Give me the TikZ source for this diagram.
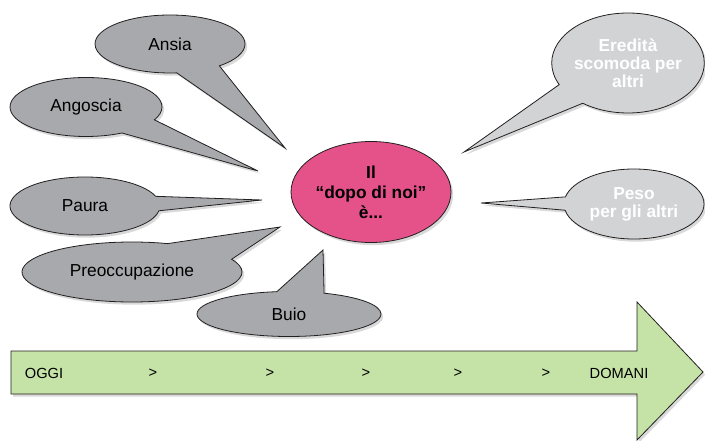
\documentclass[tikz,border=0pt]{standalone}
\usepackage{fontspec}
\setmainfont{Liberation Sans}
\usetikzlibrary{shapes.callouts,shapes.geometric,shadows}
\definecolor{balloongrey}{HTML}{A7A9AC}
\definecolor{balloonlight}{HTML}{D1D3D4}
\definecolor{centerpink}{HTML}{E5528A}
\definecolor{arrowgreen}{HTML}{C5E3A6}
\definecolor{edgegrey}{HTML}{231F20}
\tikzset{
  softshadow/.style={drop shadow={opacity=0.3,shadow xshift=1.6pt,shadow yshift=-2pt}},
  balloon/.style={ellipse callout,draw=edgegrey,line width=0.6pt,fill=balloongrey,
    inner sep=0pt,softshadow,font=\fontsize{13}{15}\selectfont,align=center},
  lightballoon/.style={balloon,fill=balloonlight,text=white,font=\fontsize{13}{13.5}\selectfont\bfseries},
  arrowtext/.style={font=\fontsize{11}{13}\selectfont,anchor=center}
}
\begin{document}
\begin{tikzpicture}[x=0.75pt,y=-0.75pt]
\useasboundingbox (0,0) rectangle (705,441);
% central ellipse
\node[ellipse,draw=edgegrey,line width=0.6pt,fill=centerpink,softshadow,
  minimum width=160*0.75pt,minimum height=101*0.75pt,inner sep=0pt,
  font=\fontsize{13}{15}\selectfont\bfseries,align=center] (center) at (371,192)
  {Il\\“dopo di noi”\\è...};
% tip coordinates
\coordinate (tAnsia) at (285,148);
\coordinate (tAngoscia) at (258,171);
\coordinate (tPaura) at (262,200);
\coordinate (tPreocc) at (280,227);
\coordinate (tBuio) at (323,250);
\coordinate (tEredita) at (464,152);
\coordinate (tPeso) at (481,203);
% balloons
\node[balloon,minimum width=150*0.75pt,minimum height=58*0.75pt,
  callout absolute pointer={(tAnsia)},callout pointer arc=36] (ansia) at (170,44) {Ansia};
\node[balloon,minimum width=152*0.75pt,minimum height=59*0.75pt,
  callout absolute pointer={(tAngoscia)},callout pointer arc=36] (angoscia) at (86,107) {Angoscia};
\node[balloon,minimum width=150*0.75pt,minimum height=58*0.75pt,
  callout absolute pointer={(tPaura)},callout pointer arc=29] (paura) at (85,206) {Paura};
\node[balloon,minimum width=220*0.75pt,minimum height=60*0.75pt,
  callout absolute pointer={(tPreocc)},callout pointer arc=46] (preocc) at (132,272) {Preoccupazione};
\node[balloon,minimum width=184*0.75pt,minimum height=45*0.75pt,
  callout absolute pointer={(tBuio)},callout pointer arc=30] (buio) at (289,314) {Buio};
\node[lightballoon,minimum width=138*0.75pt,minimum height=100*0.75pt,
  callout absolute pointer={(tEredita)},callout pointer arc=28] (eredita) at (628,63)
  {Eredità\\scomoda per\\altri};
\node[lightballoon,minimum width=140*0.75pt,minimum height=70*0.75pt,
  callout absolute pointer={(tPeso)},callout pointer arc=22] (peso) at (634,204)
  {Peso\\per gli altri};
% timeline arrow
\draw[draw=edgegrey,line width=0.6pt,fill=arrowgreen,softshadow]
  (11,351) -- (637,351) -- (637,302) -- (703,372) -- (637,440) -- (637,394) -- (11,394) -- cycle;
\node[arrowtext] (oggi) at (44,373) {OGGI};
\node[arrowtext] (g1) at (153,373) {>};
\node[arrowtext] (g2) at (270,373) {>};
\node[arrowtext] (g3) at (366,373) {>};
\node[arrowtext] (g4) at (458,373) {>};
\node[arrowtext] (g5) at (546,373) {>};
\node[arrowtext] (domani) at (619,373) {DOMANI};
\end{tikzpicture}
\end{document}
